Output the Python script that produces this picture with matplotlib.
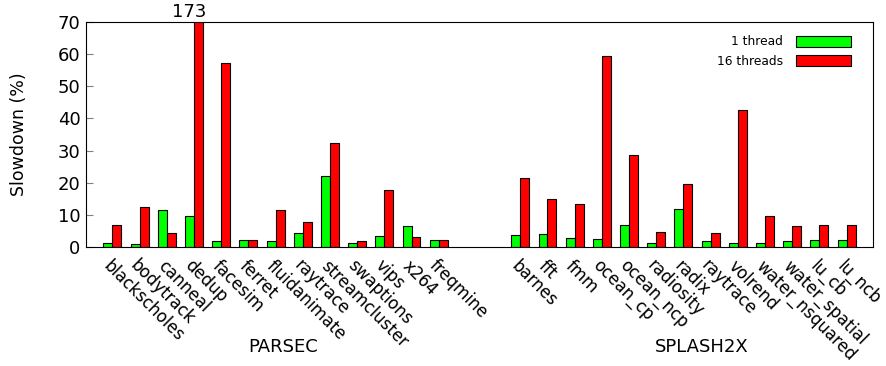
import matplotlib.pyplot as plt
import numpy as np

parsec = ['blackscholes', 'bodytrack', 'canneal', 'dedup', 'facesim', 'ferret',
          'fluidanimate', 'raytrace', 'streamcluster', 'swaptions', 'vips',
          'x264', 'freqmine']
parsec_1 = [1.2, 0.8, 11.6, 9.7, 2.0, 2.2, 1.9, 4.3, 22.1, 1.4, 3.5, 6.5, 2.2]
parsec_16 = [6.8, 12.6, 4.5, 173, 57.2, 2.2, 11.6, 7.7, 32.4, 2.0, 17.8, 3.0, 2.2]

splash = ['barnes', 'fft', 'fmm', 'ocean_cp', 'ocean_ncp', 'radiosity', 'radix',
          'raytrace', 'volrend', 'water_nsquared', 'water_spatial', 'lu_cb', 'lu_ncb']
splash_1 = [3.6, 4.2, 2.9, 2.5, 6.8, 1.4, 11.9, 1.9, 1.4, 1.2, 1.8, 2.2, 2.2]
splash_16 = [21.4, 15.0, 13.3, 59.5, 28.7, 4.6, 19.5, 4.5, 42.7, 9.7, 6.6, 6.8, 7.0]

names = parsec + splash
one = parsec_1 + splash_1
sixteen = parsec_16 + splash_16
# two empty slots between the suites
x = np.concatenate([np.arange(len(parsec)), np.arange(len(splash)) + len(parsec) + 2])

plt.rcParams['font.family'] = 'DejaVu Sans'
fig = plt.figure(figsize=(8.87, 3.66), dpi=100)
ax = fig.add_axes([86 / 887, 1 - 247 / 366, 787 / 887, 225 / 366])

w = 0.33
ax.bar(x - w / 2, one, w, color='#00ff00', edgecolor='black', linewidth=0.8, label='1 thread')
ax.bar(x + w / 2, sixteen, w, color='#ff0000', edgecolor='black', linewidth=0.8, label='16 threads')

ax.set_xlim(-0.97, 27.97)
ax.set_ylim(0, 70)
ax.set_yticks(range(0, 71, 10))
ax.tick_params(axis='y', direction='in', length=5, color='gray', labelsize=13, pad=4)
ax.set_xticks(x)
ax.set_xticklabels(names, rotation=-45, ha='left', va='top', rotation_mode='anchor', fontsize=12)
ax.tick_params(axis='x', length=0, pad=7)
ax.set_ylabel('Slowdown (%)', fontsize=12.5)
ax.yaxis.set_label_coords(-0.074, 0.5)

ax.text(2.83, 70.3, '173', ha='center', va='bottom', fontsize=13)

fig.text(283 / 887, 1 - 347 / 366, 'PARSEC', ha='center', va='center', fontsize=13)
fig.text(702 / 887, 1 - 347 / 366, 'SPLASH2X', ha='center', va='center', fontsize=13)

ax.legend(loc='upper right', frameon=False, fontsize=8.8, markerfirst=False,
          handlelength=4.5, handleheight=1.0, handletextpad=1.0, borderaxespad=0.6,
          labelspacing=0.55, bbox_to_anchor=(0.987, 0.995))

plt.savefig('out.png', dpi=100)
